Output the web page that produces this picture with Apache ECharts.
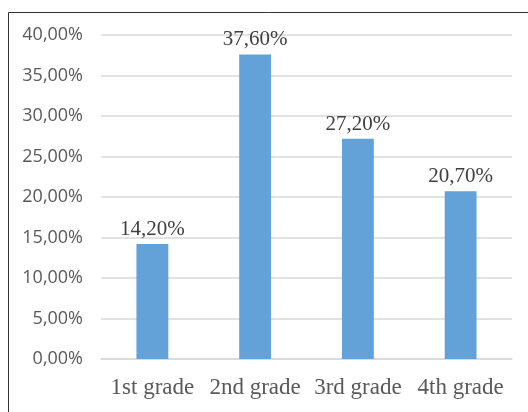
<!DOCTYPE html>
<html>
<head>
<meta charset="utf-8">
<style>
  html, body { margin: 0; padding: 0; background: #fff; }
  #chart { width: 528px; height: 412px; }
</style>
<script src="https://cdn.jsdelivr.net/npm/echarts@6/dist/echarts.min.js"></script>
</head>
<body>
<div id="chart"></div>
<script>
// grades and share of answers (percent)
var grades = ["1st grade", "2nd grade", "3rd grade", "4th grade"];
var shares = [14.2, 37.6, 27.2, 20.7];
var yTicks = { min: 0, max: 40, step: 5 };

// excel style "12,50%"
function pct(v, digits) {
  return v.toFixed(digits).replace(".", ",") + "%";
}

var chart = echarts.init(document.getElementById("chart"));
var option = {
  animation: false,
  graphic: [{
    type: "rect",
    left: 6, top: 10,
    shape: { width: 540, height: 420 },
    style: { fill: "none", stroke: "#333", lineWidth: 1 }
  }],
  grid: { left: 101, right: 16, top: 35, bottom: 53 },
  xAxis: {
    type: "category",
    data: grades,
    axisTick: { show: false },
    axisLine: { lineStyle: { color: "#d9d9d9", width: 1.5 } },
    axisLabel: {
      color: "#595959",
      fontFamily: "Liberation Serif",
      fontSize: 23,
      margin: 17,
      interval: 0
    }
  },
  yAxis: {
    type: "value",
    min: yTicks.min,
    max: yTicks.max,
    interval: yTicks.step,
    axisLine: { show: false },
    axisTick: { show: false },
    splitLine: { lineStyle: { color: "#d9d9d9", width: 1.5 } },
    axisLabel: {
      color: "#595959",
      fontFamily: "Open Sans",
      fontSize: 18,
      margin: 18,
      formatter: function (v) { return pct(v, 2); }
    }
  },
  series: [{
    type: "bar",
    data: shares,
    barWidth: "31%",
    itemStyle: { color: "#62a2d9" },
    label: {
      show: true,
      position: "top",
      distance: 4,
      color: "#404040",
      fontFamily: "Liberation Serif",
      fontSize: 21,
      formatter: function (p) { return pct(p.value, 2); }
    }
  }]
};
chart.setOption(option);
</script>
</body>
</html>
